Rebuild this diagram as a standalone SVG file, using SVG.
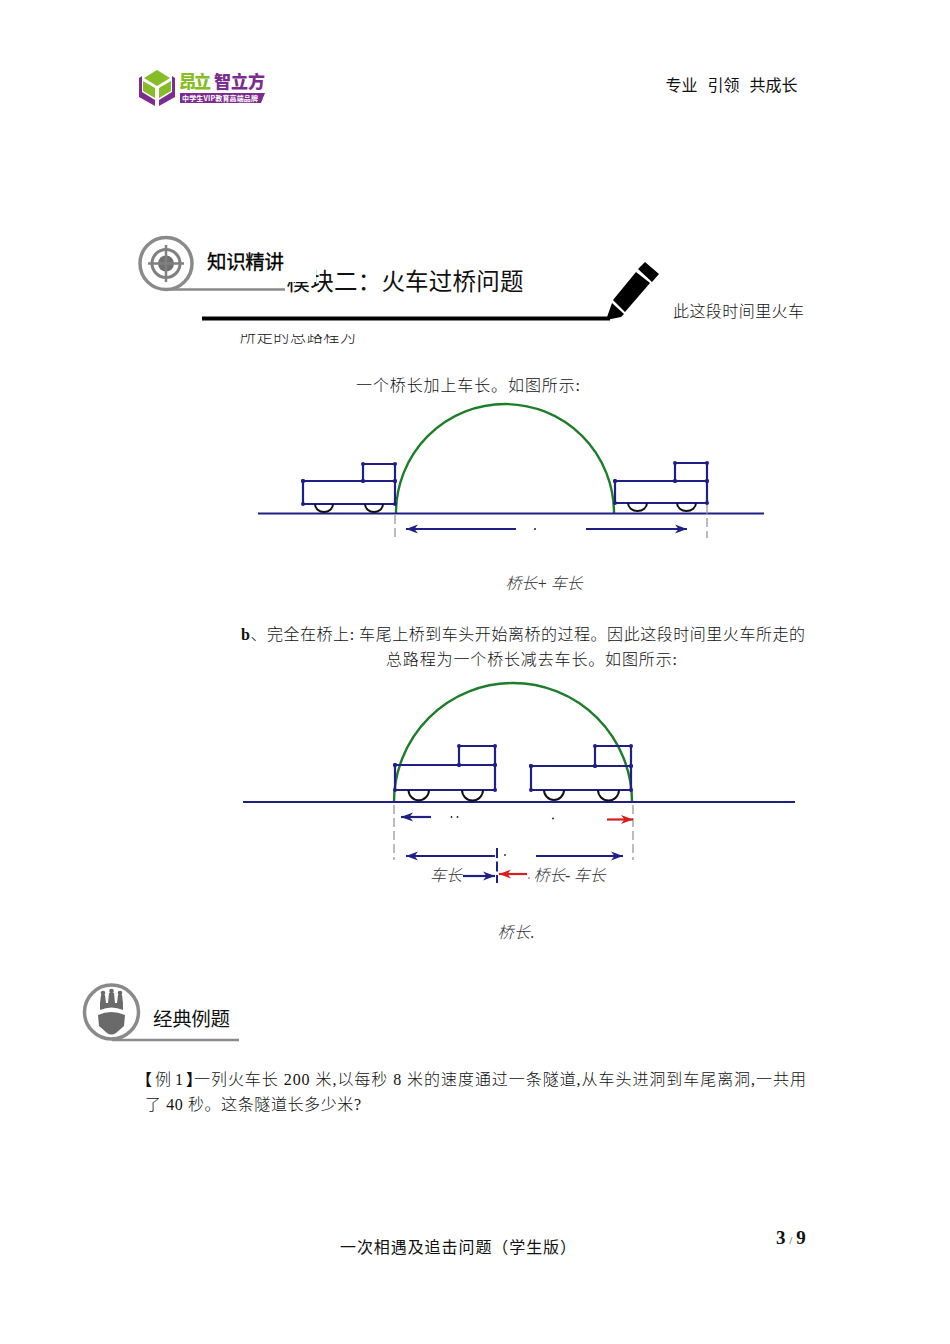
<svg xmlns="http://www.w3.org/2000/svg" width="950" height="1344" viewBox="0 0 950 1344">
<style>
text{font-family:"Liberation Serif","Noto Sans CJK SC",serif;font-size:16px;font-weight:300;fill:#111}
.i{font-style:italic;fill:#333}
.h{font-family:"Noto Sans CJK SC","Liberation Sans",sans-serif;font-weight:400;fill:#111}
.t{fill:none;stroke:#1f1f85;stroke-width:2.200;marker:url(#n)}
.w{fill:none;stroke:#111;stroke-width:2}
.g{fill:none;stroke:#1d7d2a;stroke-width:2.400}
.d{stroke:#999;stroke-width:1.300;stroke-dasharray:9 4;fill:none}
.b{stroke:#1f1f85;stroke-width:2.200;fill:none}
.r{stroke:#d81e1e;stroke-width:2.200;fill:none}
.k{fill:#1a1a50}
</style>
<defs>
<marker id="n" markerWidth="5" markerHeight="5" refX="2.500" refY="2.500" markerUnits="userSpaceOnUse"><circle cx="2.500" cy="2.500" r="2" fill="#1f1f85"/></marker>
<marker id="ab" markerWidth="14" markerHeight="10" refX="12" refY="5" orient="auto-start-reverse" markerUnits="userSpaceOnUse"><path d="M0 .5L12 5L0 9.500L3.500 5Z" fill="#1f1f85"/></marker>
<marker id="ar" markerWidth="14" markerHeight="10" refX="12" refY="5" orient="auto-start-reverse" markerUnits="userSpaceOnUse"><path d="M0 .5L12 5L0 9.500L3.500 5Z" fill="#d81e1e"/></marker>
<clipPath id="c1"><rect x="230" y="334" width="140" height="20"/></clipPath>
</defs>
<rect width="950" height="1344" fill="#fff"/>

<g id="logo">
<path d="M157 70L170 78L157 86L144 78Z M143 81L155 88V98L143 91Z M171 81L159 88V98L171 91Z" fill="#86bc25"/>
<path d="M139 78L142 76V92L155 100V106L139 97Z M175 78L172 76V92L159 100V106L175 97Z" fill="#7b2c8e"/>
<text x="179" y="88" style="font-size:17px;font-weight:900;fill:#86bc25" class="h" textLength="32">昂立</text>
<text x="214" y="88" style="font-size:17px;font-weight:900;fill:#7b2c8e" class="h" textLength="51">智立方</text>
<path d="M180 93H265L261 103H180Z" fill="#7b2c8e"/>
<text x="182" y="101" style="font-size:7px;font-weight:700;fill:#fff" class="h" textLength="76">中学生VIP教育高端品牌</text>
</g>
<text id="slogan" class="h" y="91" style="font-size:16px"><tspan x="665.500">专业</tspan><tspan x="707.500">引领</tspan><tspan x="749.500">共成长</tspan></text>

<g id="module-title">
<text class="h" x="286.500" y="290" style="font-size:23.500px" textLength="237">模块二&#xFF1A;火车过桥问题</text>
<path d="M200 225H330V268H316V282H200Z" fill="#fff"/>
</g>
<g id="header-knowledge">
<circle cx="166" cy="263.500" r="26" fill="#fff" stroke="#8a8a8a" stroke-width="3.500"/>
<circle cx="166" cy="263.500" r="14" fill="none" stroke="#808080" stroke-width="3"/>
<circle cx="166" cy="263.500" r="8" fill="#707070"/>
<path d="M166 245V282M148 263.500H184" stroke="#808080" stroke-width="2.500"/>
<path d="M166 289.500H285" stroke="#8a8a8a" stroke-width="2.500"/>
<text class="h" x="207" y="269" style="font-size:19.500px;fill:#000" textLength="77" stroke="#000" stroke-width=".3">知识精讲</text>
</g>
<g id="pen">
<path d="M202 318.500H610" stroke="#000" stroke-width="4"/>
<path d="M645 262L659 274L652 282L638 269Z M636 272L650 283L625 312L613 300Z M612 303L624 314L621 317L606 320Z" fill="#000"/>
</g>

<text x="673" y="317" textLength="131">此这段时间里火车</text>
<text x="240" y="342" textLength="116" clip-path="url(#c1)">所走的总路程为</text>
<text x="356" y="391" textLength="224">一个桥长加上车长。如图所示:</text>

<g id="diagram-a">
<path class="g" d="M396 513A109 109 0 0 1 614 513"/>
<path class="b" d="M258 513.500H764"/>
<g id="truck-a1"><path class="t" d="M303 481H363H395V504H303ZM363 481V464H395V481"/><path class="w" d="M315 504A9 8 0 0 0 333 504M365 504A9 8 0 0 0 383 504"/></g>
<g id="truck-a2"><path class="t" d="M615 481H675H707V503H615ZM675 481V463H707V481"/><path class="w" d="M628 503A9.500 8 0 0 0 647 503M677 503A9.500 8 0 0 0 696 503"/></g>
<g id="connectors-a">
<path class="d" d="M395 515V540M707 505V538"/>
<path class="b" d="M516 529H406" marker-end="url(#ab)"/>
<path class="b" d="M586 529H687" marker-end="url(#ab)"/>
</g>
<circle class="k" cx="535" cy="529" r="1"/>
</g>
<text class="i" x="505.500" y="589" textLength="77">桥长+ 车长</text>

<text x="241" y="640" textLength="564"><tspan font-weight="700">b</tspan>、完全在桥上: 车尾上桥到车头开始离桥的过程。因此这段时间里火车所走的</text>
<text x="386" y="665" textLength="291">总路程为一个桥长减去车长。如图所示:</text>

<g id="diagram-b">
<path class="g" d="M394 802A119 119 0 0 1 632 802"/>
<path class="b" d="M243 802H795"/>
<g id="truck-b1"><path class="t" d="M395 765H459H495V790H395ZM459 765V746H495V765"/><path class="w" d="M408.500 790A10 10 0 0 0 429 790M462 790A10 10 0 0 0 483 790"/></g>
<g id="truck-b2"><path class="t" d="M531 766H595H631V790H531ZM595 766V746H631V766"/><path class="w" d="M544 790A10 10 0 0 0 564 790M598 790A10 10 0 0 0 619 790"/></g>
<g id="connectors-b">
<path class="d" d="M394 805V860M633 805V860"/>
<path class="b" d="M431 817H401" marker-end="url(#ab)"/>
<path class="r" d="M607 819.500H633" marker-end="url(#ar)"/>
<path class="b" d="M495 856H406" marker-end="url(#ab)"/>
<path class="b" d="M536 856H623" marker-end="url(#ab)"/>
<path d="M497 848V883" stroke="#1f1f85" stroke-width="2" stroke-dasharray="10 3.500 10 3.500" fill="none"/>
<path class="b" d="M463 876H495" marker-end="url(#ab)"/>
<path class="r" d="M527 874H499" marker-end="url(#ar)"/>
</g>
<circle class="k" cx="451.500" cy="817" r=".9"/><circle class="k" cx="457.500" cy="817" r=".9"/><circle class="k" cx="553" cy="818.500" r=".9"/><circle class="k" cx="505" cy="855" r=".9"/>
<circle cx="529" cy="878" r=".8" fill="#d81e1e"/>
<text class="i" x="430" y="881" textLength="32">车长</text>
<text class="i" x="533.500" y="881" textLength="72">桥长- 车长</text>
</g>
<text class="i" x="497.500" y="938" textLength="37">桥长.</text>

<g id="header-example">
<circle cx="111.500" cy="1012" r="27" fill="#fff" stroke="#8a8a8a" stroke-width="3.500"/>
<path d="M98 1015Q111 1009 125 1015L124 1026L116 1033Q111.500 1036 107 1033L99 1026Z" fill="#6a6a6a"/>
<path d="M100 1010V1003L101 995H105L106 1003H108L109 993H114L115 1003H117L118 995H122L123 1003V1010Q111.500 1005 100 1010Z" fill="#6a6a6a"/>
<circle cx="103" cy="993" r="2.300" fill="#6a6a6a"/><circle cx="111.500" cy="991" r="2.300" fill="#6a6a6a"/><circle cx="120" cy="993" r="2.300" fill="#6a6a6a"/>
<path d="M112 1040H239" stroke="#8a8a8a" stroke-width="2.500"/>
<text class="h" x="153" y="1026" style="font-size:19.500px" textLength="77">经典例题</text>
</g>

<text y="1085"><tspan x="136" font-weight="700">&#x3010;</tspan><tspan x="155">例 1</tspan><tspan x="186" font-weight="700">&#x3011;</tspan><tspan x="194" letter-spacing=".95">一列火车长 200 米,以每秒 8 米的速度通过一条隧道,从车头进洞到车尾离洞,一共用</tspan></text>
<text x="145" y="1110" textLength="216">了 40 秒。这条隧道长多少米?</text>

<text id="footer" class="h" x="340" y="1253" style="font-size:16px" textLength="236">一次相遇及追击问题&#xFF08;学生版&#xFF09;</text>
<text id="page" x="776" y="1244" style="font-size:19px;font-weight:700;fill:#111">3<tspan style="font-size:10px;font-weight:400" dx="4">/</tspan><tspan dx="4">9</tspan></text>
</svg>
